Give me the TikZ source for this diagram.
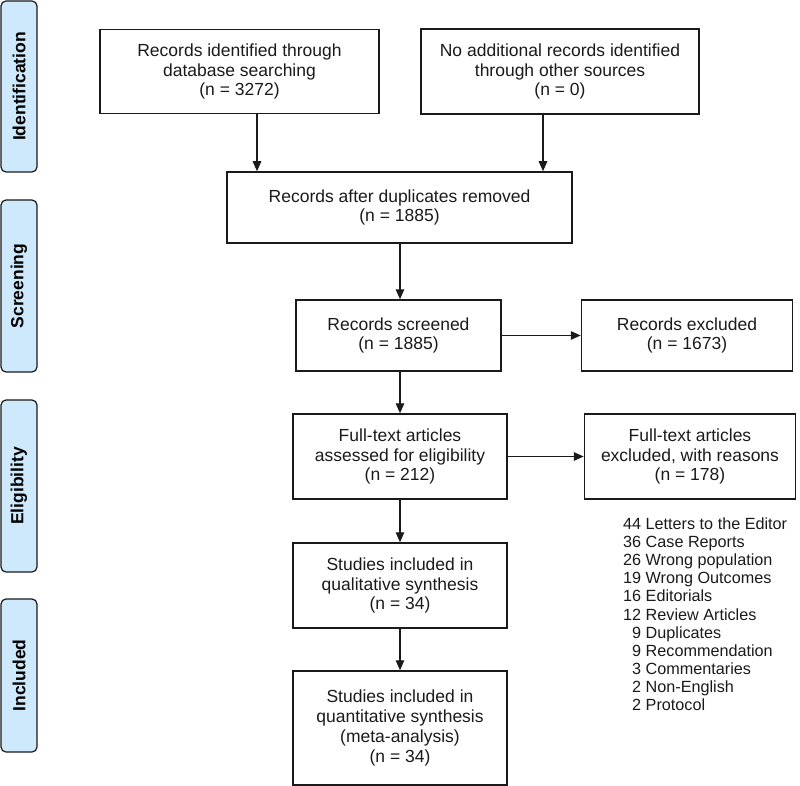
\documentclass[tikz,border=0pt]{standalone}
\usepackage{fontspec}
\setmainfont{Liberation Sans}
\usetikzlibrary{arrows.meta}
\definecolor{phase}{HTML}{CDE9FB}
\definecolor{ink}{HTML}{1A1A1A}
\begin{document}
\begin{tikzpicture}[x=1pt,y=-1pt,
  box/.style={draw=ink,line width=1.5pt,align=center,inner sep=0pt,
    font=\fontsize{17.5}{19.8}\selectfont,text=ink},
  phasebox/.style={draw=ink,line width=1.2pt,fill=phase,rounded corners=5pt,rotate=90,
    minimum height=36pt,inner sep=0pt,font=\fontsize{17.5}{20}\selectfont\bfseries,text=black},
  arr/.style={draw=ink,line width=1.4pt,-{Triangle[length=10pt,width=8.5pt]}}]
\useasboundingbox (0,0) rectangle (800,786);
% phase labels
\node[phasebox,minimum width=171pt] (pid) at (19,86.5) {Identification};
\node[phasebox,minimum width=172pt] (pscr) at (19,286) {Screening};
\node[phasebox,minimum width=172pt] (pel) at (19,486) {Eligibility};
\node[phasebox,minimum width=153pt] (pin) at (19,675.5) {Included};
% boxes
\node[box,minimum width=279pt,minimum height=84pt] (b1) at (239.5,71.5) {Records identified through\\database searching\\(n = 3272)};
\node[box,minimum width=278pt,minimum height=85pt] (b2) at (560,71.5) {No additional records identified\\through other sources\\(n = 0)};
\node[box,minimum width=345pt,minimum height=71pt] (b3) at (399.5,207.5) {Records after duplicates removed\\(n = 1885)};
\node[box,minimum width=205pt,minimum height=71pt] (b4) at (398.5,335.5) {Records screened\\(n = 1885)};
\node[box,minimum width=211pt,minimum height=71pt] (b5) at (687,335.5) {Records excluded\\(n = 1673)};
\node[box,minimum width=214pt,minimum height=85pt] (b6) at (400,456.5) {Full-text articles\\assessed for eligibility\\(n = 212)};
\node[box,minimum width=211pt,minimum height=85pt] (b7) at (690,456.5) {Full-text articles\\excluded, with reasons\\(n = 178)};
\node[box,minimum width=214pt,minimum height=85pt] (b8) at (400,585.5) {Studies included in\\qualitative synthesis\\(n = 34)};
\node[box,minimum width=214pt,minimum height=114pt] (b9) at (400,728) {Studies included in\\quantitative synthesis\\(meta-analysis)\\(n = 34)};
% reasons list
\node[anchor=base west,inner sep=0pt,text=ink,font=\fontsize{16.2}{18.1}\selectfont] (list) at (623,529.5)
{\begin{tabular}[t]{@{}r@{\ }l@{}}
44 & Letters to the Editor\\
36 & Case Reports\\
26 & Wrong population\\
19 & Wrong Outcomes\\
16 & Editorials\\
12 & Review Articles\\
9 & Duplicates\\
9 & Recommendation\\
3 & Commentaries\\
2 & Non-English\\
2 & Protocol
\end{tabular}};
% connectors
\draw[arr] ([xshift=17.5pt]b1.south) -- ([xshift=17.5pt]b1.south |- b3.north);
\draw[arr] ([xshift=-17pt]b2.south) -- ([xshift=-17pt]b2.south |- b3.north);
\draw[arr] (b3.south -| b6.north) -- (b4.north -| b6.north);
\draw[arr] (b4.south -| b6.north) -- (b6.north);
\draw[arr] (b4.east) -- (b5.west);
\draw[arr] (b6.east) -- (b7.west);
\draw[arr] (b6.south) -- (b8.north);
\draw[arr] (b8.south) -- (b9.north);
\end{tikzpicture}
\end{document}
